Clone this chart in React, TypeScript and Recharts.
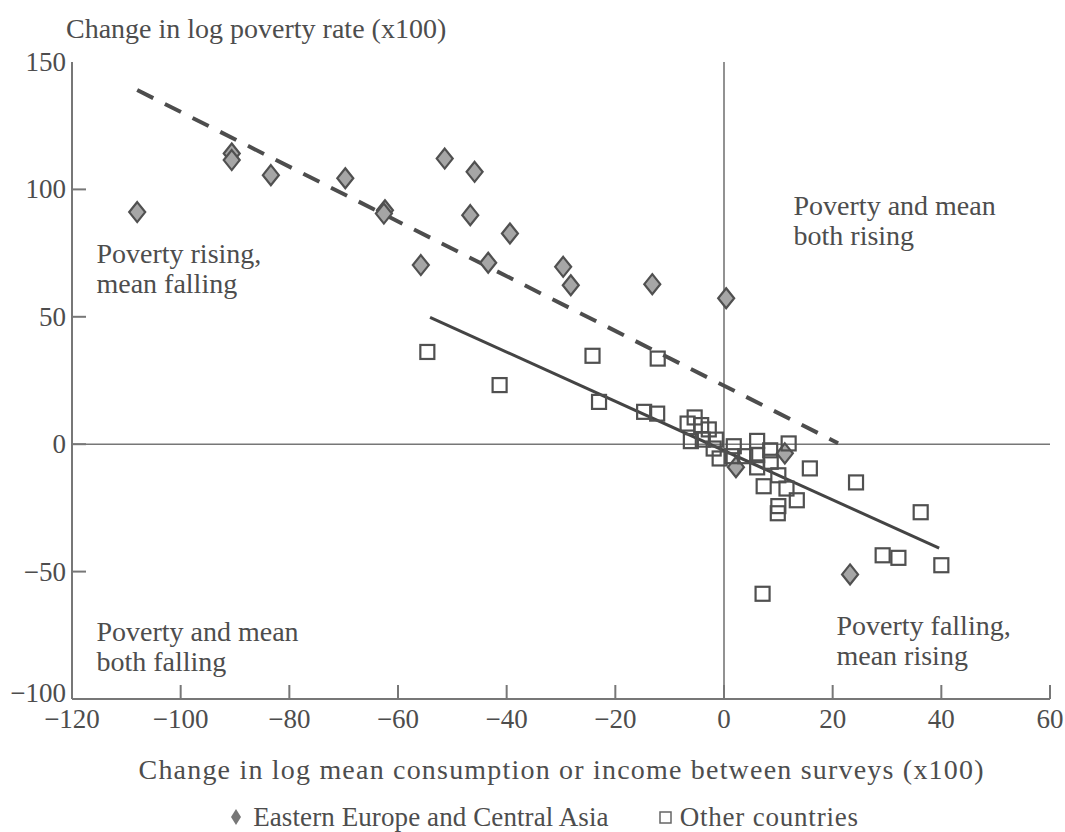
import {
  ScatterChart,
  Scatter,
  XAxis,
  YAxis,
  ReferenceLine,
  ReferenceDot,
  Legend,
} from 'recharts'

const X_TICKS = [-120, -100, -80, -60, -40, -20, 0, 20, 40, 60]
const Y_TICKS = [-100, -50, 0, 50, 100, 150]

// Eastern Europe and Central Asia
const eeca = [
  { x: -108, y: 91.1 },
  { x: -90.6, y: 114.1 },
  { x: -90.6, y: 111.5 },
  { x: -83.4, y: 105.6 },
  { x: -69.7, y: 104.4 },
  { x: -62.4, y: 91.8 },
  { x: -62.6, y: 90.5 },
  { x: -51.4, y: 112.1 },
  { x: -45.9, y: 106.9 },
  { x: -46.7, y: 89.9 },
  { x: -39.4, y: 82.7 },
  { x: -55.8, y: 70.3 },
  { x: -43.4, y: 71.2 },
  { x: -29.6, y: 69.6 },
  { x: -28.2, y: 62.4 },
  { x: -13.2, y: 62.8 },
  { x: 0.4, y: 57.3 },
  { x: 23.2, y: -51.1 },
  { x: 2.2, y: -9 },
  { x: 11.2, y: -3.6 },
]

// Other countries
const others = [
  { x: -54.6, y: 36.2 },
  { x: -41.3, y: 23.2 },
  { x: -24.2, y: 34.7 },
  { x: -12.2, y: 33.6 },
  { x: -23, y: 16.6 },
  { x: -14.7, y: 12.7 },
  { x: -12.3, y: 12 },
  { x: -5.4, y: 10.5 },
  { x: -6.7, y: 8.1 },
  { x: -4.2, y: 7.5 },
  { x: -2.8, y: 5.8 },
  { x: -6.1, y: 1.2 },
  { x: -3.9, y: 1.8 },
  { x: -1.5, y: 1.8 },
  { x: -1.9, y: -1.7 },
  { x: -0.8, y: -5.6 },
  { x: 1.8, y: -0.8 },
  { x: 1.5, y: -4.7 },
  { x: 3.9, y: -4.7 },
  { x: 6.1, y: 1.3 },
  { x: 6.1, y: -4.3 },
  { x: 6.1, y: -9.1 },
  { x: 8.5, y: -2.4 },
  { x: 8.6, y: -6.9 },
  { x: 11.9, y: 0.3 },
  { x: 10, y: -12.2 },
  { x: 7.3, y: -16.5 },
  { x: 11.5, y: -17.4 },
  { x: 13.4, y: -22 },
  { x: 10, y: -24.3 },
  { x: 9.9, y: -27.1 },
  { x: 15.8, y: -9.5 },
  { x: 24.3, y: -15 },
  { x: 36.2, y: -26.7 },
  { x: 29.2, y: -43.6 },
  { x: 32.1, y: -44.6 },
  { x: 40, y: -47.5 },
  { x: 7.1, y: -58.7 },
]

const eecaFit = [
  { x: -108, y: 139 },
  { x: 21, y: 0.4 },
]
const othersFit = [
  { x: -54.1, y: 49.8 },
  { x: 39.6, y: -40.8 },
]

const quadrantNotes = [
  { x: -115.5, y: 74.5, lines: ['Poverty rising,', 'mean falling'] },
  { x: 12.8, y: 93.5, lines: ['Poverty and mean', 'both rising'] },
  { x: -115.5, y: -73.7, lines: ['Poverty and mean', 'both falling'] },
  { x: 20.7, y: -71.4, lines: ['Poverty falling,', 'mean rising'] },
]

const FONT = '"Liberation Serif", "DejaVu Serif", serif'
const INK = '#4d4d4d'
const AXIS = '#777'
const TICK_FS = 27
const FS = 28

const fmt = (v: number) => (v < 0 ? `\u2212${Math.abs(v)}` : String(v))

const XTick = (props: any) => {
  const { x, y, payload } = props
  return (
    <g>
      {payload.value !== -120 && (
        <line x1={x} x2={x} y1={y} y2={y - 14} stroke={AXIS} strokeWidth={2} />
      )}
      <text x={x} y={y + 29} textAnchor="middle" fill={INK} fontFamily={FONT} fontSize={TICK_FS}>
        {fmt(payload.value)}
      </text>
    </g>
  )
}

const YTick = (props: any) => {
  const { x, y, payload } = props
  const v = payload.value
  return (
    <g>
      {v !== 150 && v !== -100 && (
        <line x1={x} x2={x + 14} y1={y} y2={y} stroke={AXIS} strokeWidth={2} />
      )}
      <text
        x={x - 6}
        y={v === -100 ? y + 3 : y + 9}
        textAnchor="end"
        fill={INK}
        fontFamily={FONT}
        fontSize={TICK_FS}
      >
        {fmt(v)}
      </text>
    </g>
  )
}

const Diamond = (props: any) => {
  const { cx, cy } = props
  return (
    <polygon
      points={`${cx},${cy - 10} ${cx + 8},${cy} ${cx},${cy + 10} ${cx - 8},${cy}`}
      fill="#a6a6a6"
      stroke="#505050"
      strokeWidth={2.2}
    />
  )
}

const Square = (props: any) => {
  const { cx, cy } = props
  return (
    <rect x={cx - 7} y={cy - 7} width={14} height={14} fill="none" stroke="#505050" strokeWidth={2.2} />
  )
}

const Note = (lines: string[]) => (props: any) => {
  const { cx, cy } = props
  return (
    <text x={cx} y={cy} fill={INK} fontFamily={FONT} fontSize={FS}>
      {lines.map((l, i) => (
        <tspan key={i} x={cx} dy={i === 0 ? 9 : 30}>
          {l}
        </tspan>
      ))}
    </text>
  )
}

const LegendContent = () => (
  <div
    style={{
      height: 30,
      display: 'flex',
      justifyContent: 'center',
      alignItems: 'center',
      gap: 50,
      paddingLeft: 40,
      fontFamily: FONT,
      fontSize: 27,
      letterSpacing: 0.1,
      color: INK,
      whiteSpace: 'nowrap',
    }}
  >
    <span style={{ display: 'flex', alignItems: 'center', gap: 12 }}>
      <svg width={10} height={16}>
        <polygon points="5,0 10,8 5,16 0,8" fill="#777" />
      </svg>
      Eastern Europe and Central Asia
    </span>
    <span style={{ display: 'flex', alignItems: 'center', gap: 8, letterSpacing: 0.8 }}>
      <svg width={13} height={13}>
        <rect x={1} y={1} width={11} height={11} fill="none" stroke="#666" strokeWidth={1.5} />
      </svg>
      Other countries
    </span>
  </div>
)

export default function App() {
  return (
    <div style={{ position: 'absolute', left: 0, top: 0, background: '#fff' }}>
      <ScatterChart
        width={1065}
        height={832}
        margin={{ top: 62, right: 15, bottom: 0, left: 0 }}
      >
        <XAxis
          type="number"
          dataKey="x"
          domain={[-120, 60]}
          ticks={X_TICKS}
          interval={0}
          height={103}
          tickSize={0}
          tickMargin={0}
          tickLine={false}
          tick={<XTick />}
          axisLine={{ stroke: AXIS, strokeWidth: 2 }}
          allowDataOverflow
          label={{
            content: (p: any) => {
              const vb = p.viewBox || {}
              return (
                <text
                  x={vb.x + vb.width / 2}
                  y={vb.y + 80}
                  textAnchor="middle"
                  fill={INK}
                  fontFamily={FONT}
                  fontSize={FS}
                  textLength={845}
                  lengthAdjust="spacing"
                >
                  Change in log mean consumption or income between surveys (x100)
                </text>
              )
            },
          }}
        />
        <YAxis
          type="number"
          dataKey="y"
          domain={[-100, 150]}
          ticks={Y_TICKS}
          interval={0}
          width={72}
          tickSize={0}
          tickMargin={0}
          tickLine={false}
          tick={<YTick />}
          axisLine={{ stroke: AXIS, strokeWidth: 2 }}
          allowDataOverflow
          label={{
            content: (p: any) => {
              const vb = p.viewBox || {}
              return (
                <text x={vb.x + 66} y={vb.y - 24} fill={INK} fontFamily={FONT} fontSize={FS}>
                  Change in log poverty rate (x100)
                </text>
              )
            },
          }}
        />
        <ReferenceLine x={0} stroke={AXIS} strokeWidth={1.6} />
        <ReferenceLine y={0} stroke={AXIS} strokeWidth={1.6} />
        <ReferenceLine
          segment={eecaFit}
          stroke="#4d4d4d"
          strokeWidth={4}
          strokeDasharray="18 13"
        />
        <ReferenceLine segment={othersFit} stroke="#444" strokeWidth={3} />
        {quadrantNotes.map((n, i) => (
          <ReferenceDot key={i} x={n.x} y={n.y} r={0} shape={Note(n.lines)} />
        ))}
        <Scatter
          name="Eastern Europe and Central Asia"
          data={eeca}
          shape={<Diamond />}
          isAnimationActive={false}
        />
        <Scatter
          name="Other countries"
          data={others}
          shape={<Square />}
          isAnimationActive={false}
        />
        <Legend verticalAlign="bottom" content={<LegendContent />} />
      </ScatterChart>
    </div>
  )
}
